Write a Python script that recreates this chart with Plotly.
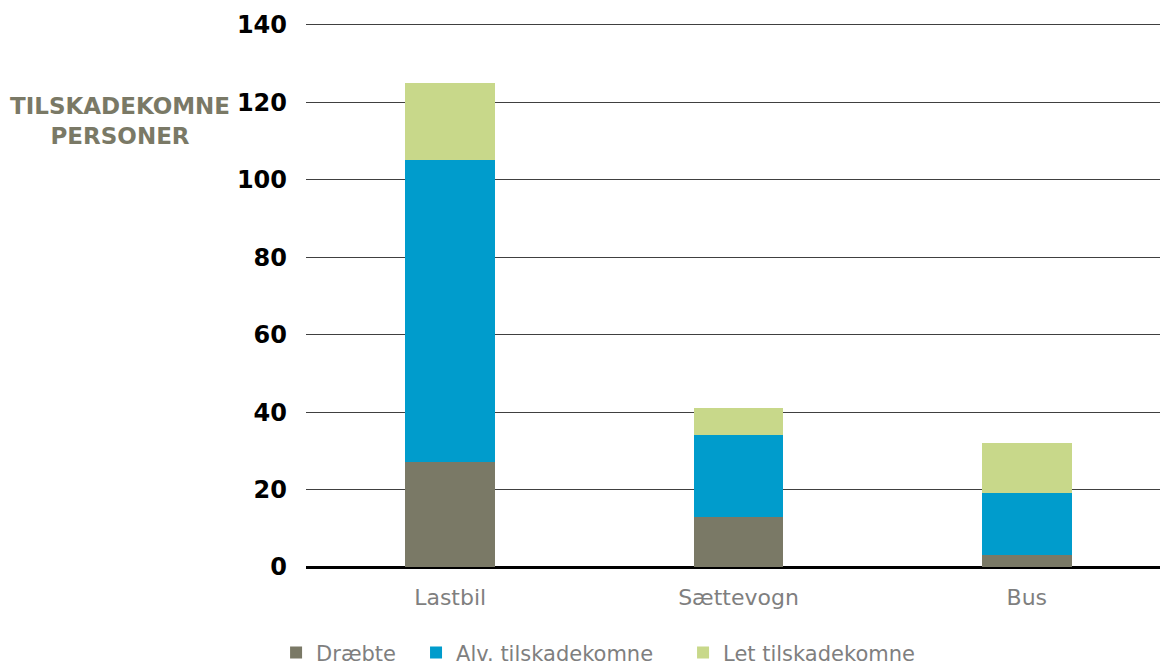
import plotly.graph_objects as go

categories = ["Lastbil", "Sættevogn", "Bus"]
draebte = [27, 13, 3]
alv_tilskadekomne = [78, 21, 16]
let_tilskadekomne = [20, 7, 13]
series_names = ["Dræbte", "Alv. tilskadekomne", "Let tilskadekomne"]
series_colors = ["#7a7966", "#009ccc", "#c8d88a"]
y_ticks = [0, 20, 40, 60, 80, 100, 120, 140]

legend_ids = ["legend", "legend2", "legend3"]
legend_x = [-0.0346, 0.1272, 0.4359]

fig = go.Figure()
for name, vals, col, lg in zip(series_names, [draebte, alv_tilskadekomne, let_tilskadekomne], series_colors, legend_ids):
    fig.add_trace(go.Bar(
        x=categories, y=vals, name=name, legend=lg,
        marker=dict(color=col, line=dict(width=0)),
    ))

legend_common = dict(
    orientation="h", xanchor="left", xref="paper",
    y=-0.12, yanchor="top",
    font=dict(size=21, color="#7f7f7f"),
    itemwidth=30, bgcolor="rgba(0,0,0,0)",
)

fig.update_layout(
    barmode="stack",
    bargap=0.69,
    width=1168, height=665,
    plot_bgcolor="white", paper_bgcolor="white",
    margin=dict(l=298, r=5, t=15, b=106, autoexpand=False),
    font=dict(family="DejaVu Sans", color="#7f7f7f"),
    showlegend=True,
    legend=dict(x=legend_x[0], **legend_common),
    legend2=dict(x=legend_x[1], **legend_common),
    legend3=dict(x=legend_x[2], **legend_common),
    xaxis=dict(
        showgrid=False, showline=False, ticks="",
        tickfont=dict(size=22, color="#7f7f7f"),
        ticklabelstandoff=15,
    ),
    yaxis=dict(
        range=[0, 140.5], tickvals=y_ticks,
        showgrid=True, gridcolor="#404040", gridwidth=1.4,
        zeroline=True, zerolinecolor="#000000", zerolinewidth=3,
        showline=False, ticks="",
        tickfont=dict(size=24, color="#000000", family="DejaVu Sans", weight="bold"),
        ticklabelstandoff=18,
    ),
)

fig.add_annotation(
    text="TILSKADEKOMNE<br>PERSONER",
    xref="paper", yref="paper", x=-0.215, y=0.875,
    xanchor="center", yanchor="top", showarrow=False, align="center",
    font=dict(size=23, color="#7a7966", family="DejaVu Sans", weight="bold"),
)

fig.write_html("out.html")
